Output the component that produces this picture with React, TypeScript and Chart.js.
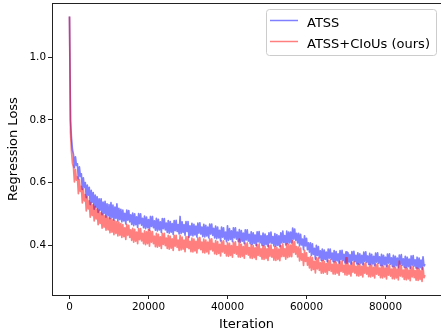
import React, { useEffect, useRef } from 'react';
import { Chart, registerables } from 'chart.js';

Chart.register(...registerables);

// Iteration spacing between successive logged losses (4 values per 1000 iterations)
const iterStep = 250;

// ATSS regression loss (blue)
const atssLoss = [
  1.130, 0.800, 0.742, 0.705,
  0.690, 0.648, 0.682, 0.655,
  0.660, 0.612, 0.650, 0.620,
  0.628, 0.578, 0.615, 0.585,
  0.600, 0.552, 0.592, 0.560,
  0.585, 0.530, 0.575, 0.538,
  0.568, 0.515, 0.560, 0.522,
  0.555, 0.505, 0.548, 0.512,
  0.548, 0.498, 0.538, 0.502,
  0.540, 0.490, 0.532, 0.495,
  0.530, 0.485, 0.536, 0.488,
  0.528, 0.480, 0.522, 0.486,
  0.532, 0.478, 0.518, 0.482,
  0.515, 0.475, 0.512, 0.478,
  0.502, 0.468, 0.512, 0.480,
  0.511, 0.475, 0.497, 0.467,
  0.503, 0.463, 0.500, 0.466,
  0.491, 0.457, 0.501, 0.469,
  0.500, 0.464, 0.486, 0.456,
  0.493, 0.453, 0.490, 0.456,
  0.482, 0.448, 0.492, 0.460,
  0.492, 0.456, 0.478, 0.448,
  0.486, 0.446, 0.483, 0.449,
  0.475, 0.441, 0.485, 0.453,
  0.485, 0.449, 0.471, 0.441,
  0.479, 0.439, 0.476, 0.442,
  0.469, 0.435, 0.479, 0.447,
  0.480, 0.444, 0.466, 0.436,
  0.492, 0.438, 0.475, 0.441,
  0.466, 0.432, 0.476, 0.444,
  0.476, 0.425, 0.462, 0.432,
  0.470, 0.430, 0.467, 0.433,
  0.461, 0.427, 0.471, 0.439,
  0.472, 0.436, 0.458, 0.428,
  0.467, 0.427, 0.464, 0.430,
  0.458, 0.424, 0.468, 0.436,
  0.468, 0.432, 0.454, 0.424,
  0.461, 0.421, 0.458, 0.424,
  0.448, 0.414, 0.458, 0.426,
  0.456, 0.420, 0.442, 0.412,
  0.462, 0.416, 0.453, 0.419,
  0.446, 0.412, 0.456, 0.424,
  0.456, 0.420, 0.442, 0.412,
  0.450, 0.410, 0.447, 0.413,
  0.439, 0.405, 0.449, 0.417,
  0.449, 0.413, 0.435, 0.405,
  0.443, 0.403, 0.440, 0.406,
  0.433, 0.399, 0.443, 0.411,
  0.444, 0.408, 0.430, 0.400,
  0.439, 0.399, 0.436, 0.402,
  0.430, 0.396, 0.440, 0.408,
  0.442, 0.406, 0.428, 0.398,
  0.437, 0.397, 0.434, 0.400,
  0.430, 0.396, 0.440, 0.408,
  0.445, 0.409, 0.431, 0.401,
  0.445, 0.405, 0.442, 0.408,
  0.442, 0.408, 0.455, 0.420,
  0.452, 0.416, 0.438, 0.408,
  0.438, 0.398, 0.435, 0.401,
  0.420, 0.386, 0.430, 0.398,
  0.422, 0.386, 0.408, 0.378,
  0.408, 0.368, 0.405, 0.371,
  0.390, 0.356, 0.400, 0.368,
  0.396, 0.360, 0.382, 0.352,
  0.388, 0.352, 0.385, 0.355,
  0.378, 0.348, 0.388, 0.359,
  0.388, 0.355, 0.375, 0.348,
  0.383, 0.347, 0.380, 0.350,
  0.373, 0.343, 0.383, 0.354,
  0.384, 0.351, 0.371, 0.344,
  0.379, 0.343, 0.376, 0.346,
  0.370, 0.340, 0.380, 0.351,
  0.381, 0.348, 0.368, 0.341,
  0.376, 0.340, 0.373, 0.343,
  0.368, 0.338, 0.378, 0.349,
  0.379, 0.346, 0.366, 0.339,
  0.374, 0.338, 0.371, 0.341,
  0.365, 0.335, 0.375, 0.346,
  0.376, 0.343, 0.363, 0.336,
  0.371, 0.335, 0.368, 0.338,
  0.362, 0.332, 0.372, 0.343,
  0.373, 0.340, 0.360, 0.333,
  0.368, 0.332, 0.365, 0.335,
  0.359, 0.329, 0.369, 0.340,
  0.370, 0.337, 0.357, 0.330,
  0.365, 0.329, 0.362, 0.332,
  0.356, 0.326, 0.366, 0.337,
  0.367, 0.334, 0.354, 0.327,
  0.362, 0.326, 0.359, 0.329,
  0.353, 0.323, 0.363, 0.334,
  0.340,
];

// ATSS+CIoUs regression loss (red)
const atssCiousLoss = [
  1.130, 0.760, 0.700, 0.662,
  0.650, 0.602, 0.642, 0.608,
  0.618, 0.565, 0.610, 0.572,
  0.588, 0.535, 0.580, 0.542,
  0.562, 0.510, 0.556, 0.516,
  0.542, 0.490, 0.536, 0.495,
  0.530, 0.478, 0.524, 0.484,
  0.516, 0.466, 0.512, 0.470,
  0.505, 0.455, 0.500, 0.458,
  0.495, 0.448, 0.492, 0.450,
  0.488, 0.440, 0.485, 0.442,
  0.482, 0.434, 0.478, 0.438,
  0.476, 0.430, 0.474, 0.432,
  0.469, 0.425, 0.466, 0.428,
  0.456, 0.419, 0.467, 0.432,
  0.464, 0.425, 0.449, 0.416,
  0.454, 0.410, 0.451, 0.413,
  0.442, 0.405, 0.453, 0.418,
  0.453, 0.414, 0.438, 0.405,
  0.446, 0.402, 0.443, 0.405,
  0.450, 0.397, 0.445, 0.410,
  0.444, 0.405, 0.429, 0.396,
  0.438, 0.394, 0.435, 0.397,
  0.427, 0.390, 0.438, 0.403,
  0.438, 0.399, 0.423, 0.390,
  0.432, 0.388, 0.429, 0.391,
  0.421, 0.384, 0.432, 0.397,
  0.432, 0.393, 0.417, 0.384,
  0.432, 0.385, 0.426, 0.388,
  0.417, 0.380, 0.428, 0.393,
  0.428, 0.389, 0.413, 0.380,
  0.423, 0.379, 0.420, 0.382,
  0.413, 0.376, 0.424, 0.389,
  0.425, 0.386, 0.410, 0.377,
  0.420, 0.376, 0.417, 0.379,
  0.410, 0.373, 0.421, 0.386,
  0.421, 0.382, 0.406, 0.373,
  0.415, 0.371, 0.412, 0.374,
  0.403, 0.366, 0.414, 0.379,
  0.414, 0.375, 0.399, 0.366,
  0.409, 0.365, 0.406, 0.368,
  0.399, 0.362, 0.410, 0.375,
  0.411, 0.372, 0.396, 0.363,
  0.420, 0.362, 0.403, 0.365,
  0.396, 0.359, 0.407, 0.372,
  0.408, 0.369, 0.393, 0.360,
  0.402, 0.358, 0.399, 0.361,
  0.392, 0.355, 0.403, 0.368,
  0.404, 0.365, 0.389, 0.356,
  0.399, 0.355, 0.396, 0.358,
  0.389, 0.352, 0.400, 0.365,
  0.401, 0.362, 0.386, 0.353,
  0.396, 0.352, 0.393, 0.355,
  0.388, 0.351, 0.399, 0.364,
  0.404, 0.365, 0.389, 0.356,
  0.405, 0.361, 0.402, 0.364,
  0.401, 0.364, 0.415, 0.377,
  0.411, 0.372, 0.396, 0.363,
  0.394, 0.350, 0.391, 0.353,
  0.373, 0.336, 0.384, 0.349,
  0.376, 0.337, 0.361, 0.328,
  0.364, 0.320, 0.361, 0.323,
  0.349, 0.312, 0.360, 0.325,
  0.359, 0.320, 0.344, 0.311,
  0.351, 0.311, 0.348, 0.314,
  0.342, 0.308, 0.352, 0.320,
  0.353, 0.317, 0.339, 0.309,
  0.348, 0.308, 0.345, 0.311,
  0.339, 0.305, 0.349, 0.317,
  0.350, 0.314, 0.336, 0.306,
  0.360, 0.305, 0.342, 0.308,
  0.336, 0.302, 0.346, 0.314,
  0.347, 0.311, 0.333, 0.303,
  0.342, 0.302, 0.339, 0.305,
  0.333, 0.299, 0.343, 0.311,
  0.344, 0.308, 0.330, 0.300,
  0.339, 0.299, 0.336, 0.302,
  0.330, 0.296, 0.340, 0.308,
  0.341, 0.305, 0.327, 0.297,
  0.336, 0.296, 0.333, 0.299,
  0.327, 0.293, 0.337, 0.305,
  0.338, 0.302, 0.324, 0.294,
  0.333, 0.293, 0.330, 0.296,
  0.324, 0.290, 0.350, 0.302,
  0.335, 0.299, 0.321, 0.291,
  0.330, 0.290, 0.327, 0.293,
  0.321, 0.287, 0.331, 0.299,
  0.333, 0.297, 0.319, 0.289,
  0.328, 0.288, 0.325, 0.291,
  0.319, 0.285, 0.329, 0.297,
  0.305,
];

const seriesNames = ['ATSS', 'ATSS+CIoUs (ours)'];
const xTicks = [0, 20000, 40000, 60000, 80000];
const xTickLabels = ['0', '20000', '40000', '60000', '80000'];
const yTicks = [0.4, 0.6, 0.8, 1.0];
const yTickLabels = ['0.4', '0.6', '0.8', '1.0'];
const xTitle = 'Iteration';
const yTitle = 'Regression Loss';

const FONT = '"DejaVu Sans", sans-serif';
const BLUE = 'rgba(0,0,255,0.5)';
const RED = 'rgba(255,0,0,0.5)';

const toPoints = (vals: number[]) => vals.map((v, i) => ({ x: i * iterStep, y: v }));

const framePlugin = {
  id: 'frameAndLegend',
  afterDraw(chart: any) {
    const { ctx, chartArea: a } = chart;
    ctx.save();
    // top spine
    ctx.strokeStyle = '#222';
    ctx.lineWidth = 1;
    ctx.beginPath();
    ctx.moveTo(a.left, a.top + 0.5);
    ctx.lineTo(a.right, a.top + 0.5);
    ctx.stroke();

    // legend box (upper right, inside axes)
    const bx = a.right - 174.5;
    const by = a.top + 6.5;
    const bw = 170;
    const bh = 46;
    ctx.fillStyle = 'rgba(255,255,255,0.8)';
    ctx.strokeStyle = '#cccccc';
    ctx.lineWidth = 1;
    ctx.beginPath();
    (ctx as any).roundRect(bx, by, bw, bh, 3);
    ctx.fill();
    ctx.stroke();

    const colors = [BLUE, RED];
    ctx.font = `13px ${FONT}`;
    ctx.textBaseline = 'alphabetic';
    ctx.textAlign = 'left';
    seriesNames.forEach((name, i) => {
      const ly = by + 11 + i * 21;
      ctx.strokeStyle = colors[i];
      ctx.lineWidth = 1.5;
      ctx.beginPath();
      ctx.moveTo(bx + 3.5, ly);
      ctx.lineTo(bx + 31.5, ly);
      ctx.stroke();
      ctx.fillStyle = '#000';
      ctx.fillText(name, bx + 40.5, ly + 6);
    });
    ctx.restore();
  },
};

export default function App() {
  const ref = useRef<HTMLCanvasElement | null>(null);

  useEffect(() => {
    if (!ref.current) return;
    const chart = new Chart(ref.current, {
      type: 'line',
      data: {
        datasets: [
          {
            label: seriesNames[0],
            data: toPoints(atssLoss),
            borderColor: BLUE,
            borderWidth: 1.7,
            borderJoinStyle: 'round',
            pointRadius: 0,
            tension: 0,
            order: 1,
          },
          {
            label: seriesNames[1],
            data: toPoints(atssCiousLoss),
            borderColor: RED,
            borderWidth: 1.7,
            borderJoinStyle: 'round',
            pointRadius: 0,
            tension: 0,
            order: 0,
          },
        ],
      },
      options: {
        responsive: false,
        animation: false,
        layout: { padding: { top: 3, right: 0, left: 0, bottom: 0 } },
        plugins: { legend: { display: false }, tooltip: { enabled: false } },
        scales: {
          x: {
            type: 'linear',
            min: -4430,
            max: 94050,
            afterFit: (s: any) => {
              s.height = 41;
              s.paddingLeft = 0;
              s.paddingRight = 0;
            },
            afterBuildTicks: (s: any) => { s.ticks = xTicks.map((v) => ({ value: v })); },
            ticks: {
              callback: (_v: any, i: number) => xTickLabels[i],
              font: { family: FONT, size: 10.4 },
              color: '#000',
              padding: 2,
              maxRotation: 0,
            },
            grid: { drawOnChartArea: false, drawTicks: true, tickLength: 4, color: '#222', lineWidth: 1 },
            border: { display: true, color: '#222', width: 1 },
            title: {
              display: true,
              text: xTitle,
              font: { family: FONT, size: 13 },
              color: '#000',
              padding: { top: 0, bottom: 4 },
            },
          },
          y: {
            type: 'linear',
            min: 0.2415,
            max: 1.173,
            afterFit: (s: any) => {
              s.width = 52;
              s.paddingTop = 0;
              s.paddingBottom = 0;
            },
            afterBuildTicks: (s: any) => { s.ticks = yTicks.map((v) => ({ value: v })); },
            ticks: {
              callback: (_v: any, i: number) => yTickLabels[i],
              font: { family: FONT, size: 10.4 },
              color: '#000',
              padding: 2,
            },
            grid: { drawOnChartArea: false, drawTicks: true, tickLength: 4, color: '#222', lineWidth: 1 },
            border: { display: true, color: '#222', width: 1 },
            title: {
              display: true,
              text: yTitle,
              font: { family: FONT, size: 13 },
              color: '#000',
              padding: { top: 6, bottom: 0 },
            },
          },
        },
      },
      plugins: [framePlugin],
    });
    return () => chart.destroy();
  }, []);

  return (
    <div style={{ position: 'absolute', left: 0, top: 0, width: 441, height: 336, background: '#fff' }}>
      <canvas ref={ref} width={441} height={336} style={{ display: 'block' }} />
    </div>
  );
}
